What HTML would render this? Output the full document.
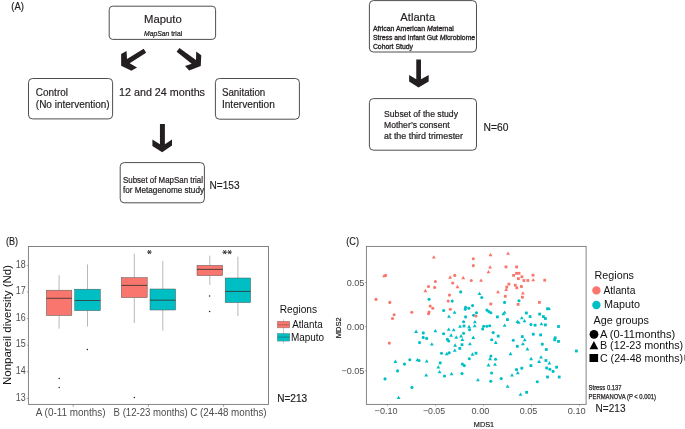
<!DOCTYPE html>
<html><head><meta charset="utf-8"><style>
html,body{margin:0;padding:0;background:#fff;}
body{width:685px;height:429px;overflow:hidden;}
svg{display:block;will-change:transform;font-family:"Liberation Sans",sans-serif;}
</style></head><body>
<svg width="685" height="429" viewBox="0 0 685 429">
<rect width="685" height="429" fill="#fff"/>
<text x="11.3" y="9.8" font-size="10.2" fill="#222" textLength="12.7" lengthAdjust="spacingAndGlyphs" stroke="#222" stroke-width="0.18">(A)</text>
<rect x="109.2" y="6.2" width="106.4" height="33.2" rx="3.5" fill="none" stroke="#3a3a3a" stroke-width="0.9"/>
<text x="144" y="22.8" font-size="11" fill="#231F20" textLength="37.7" lengthAdjust="spacingAndGlyphs" stroke="#231F20" stroke-width="0.18">Maputo</text>
<text x="144" y="35.8" font-size="7" fill="#231F20" textLength="38.2" lengthAdjust="spacingAndGlyphs" stroke="#231F20" stroke-width="0.22"><tspan font-style="italic">MapSan</tspan> trial</text>
<polygon points="143.67,48.85 146.12,52.69 129.69,63.32 137.03,67.38 131.43,70.73 121.15,65.63 121.15,54.09 126.54,50.94 127.03,58.99" fill="#231F20"/>
<polygon points="179.44,47.94 196.01,60.03 196.22,51.43 201.26,55.14 200.77,65.98 189.23,70.52 185.03,65.98 191.68,63.74 176.64,51.64" fill="#231F20"/>
<rect x="28.5" y="78.5" width="84.1" height="40.4" rx="4" fill="none" stroke="#3a3a3a" stroke-width="0.9"/>
<text x="35.8" y="96" font-size="10" fill="#231F20" textLength="32.2" lengthAdjust="spacingAndGlyphs" stroke="#231F20" stroke-width="0.18">Control</text>
<text x="35.8" y="108.2" font-size="10" fill="#231F20" textLength="73.9" lengthAdjust="spacingAndGlyphs" stroke="#231F20" stroke-width="0.18">(No intervention)</text>
<text x="119" y="95.9" font-size="11" fill="#231F20" textLength="86" lengthAdjust="spacingAndGlyphs" stroke="#231F20" stroke-width="0.18">12 and 24 months</text>
<rect x="215.4" y="78.5" width="84.0" height="40.7" rx="4" fill="none" stroke="#3a3a3a" stroke-width="0.9"/>
<text x="221.9" y="96" font-size="10" fill="#231F20" textLength="43.4" lengthAdjust="spacingAndGlyphs" stroke="#231F20" stroke-width="0.18">Sanitation</text>
<text x="221.9" y="108.1" font-size="10" fill="#231F20" textLength="53" lengthAdjust="spacingAndGlyphs" stroke="#231F20" stroke-width="0.18">Intervention</text>
<polygon points="159.94,124.03 164.89,124.03 164.89,144.3 172.0,139.5 172.0,145.6 162.2,152.3 152.4,146 152.4,139.5 159.94,144.3" fill="#231F20"/>
<rect x="120.2" y="162.6" width="84.2" height="40.2" rx="4" fill="none" stroke="#3a3a3a" stroke-width="0.9"/>
<text x="123" y="182.6" font-size="8.3" fill="#231F20" textLength="80" lengthAdjust="spacingAndGlyphs" stroke="#231F20" stroke-width="0.22">Subset of MapSan trial</text>
<text x="123" y="193" font-size="8.3" fill="#231F20" textLength="81" lengthAdjust="spacingAndGlyphs" stroke="#231F20" stroke-width="0.22">for Metagenome study</text>
<text x="209.6" y="189" font-size="10.3" fill="#231F20" textLength="30" lengthAdjust="spacingAndGlyphs" stroke="#231F20" stroke-width="0.18">N=153</text>
<rect x="369.4" y="0.6" width="107.1" height="51.4" rx="4" fill="none" stroke="#3a3a3a" stroke-width="0.9"/>
<text x="400.3" y="21" font-size="11.1" fill="#231F20" textLength="34.9" lengthAdjust="spacingAndGlyphs" stroke="#231F20" stroke-width="0.18">Atlanta</text>
<text x="372.9" y="31.2" font-size="6.7" fill="#231F20" textLength="80.9" lengthAdjust="spacingAndGlyphs" stroke="#231F20" stroke-width="0.3">African American <tspan font-style="italic">Ma</tspan>ternal</text>
<text x="372.9" y="40" font-size="6.7" fill="#231F20" textLength="102.3" lengthAdjust="spacingAndGlyphs" stroke="#231F20" stroke-width="0.3">Stress and Infant Gut <tspan font-style="italic">Mi</tspan>crobiome</text>
<text x="372.9" y="48.5" font-size="6.7" fill="#231F20" textLength="40.1" lengthAdjust="spacingAndGlyphs" stroke="#231F20" stroke-width="0.3">Cohort Study</text>
<polygon points="416.27,59.6 420.97,59.6 420.97,79.3 428.7,74.9 428.7,81.4 418.5,87.6 409.13,81.4 409.13,74.9 416.27,79.3" fill="#231F20"/>
<rect x="369.4" y="98.6" width="107.1" height="51.6" rx="4" fill="none" stroke="#3a3a3a" stroke-width="0.9"/>
<text x="384" y="117" font-size="8.9" fill="#231F20" textLength="74" lengthAdjust="spacingAndGlyphs" stroke="#231F20" stroke-width="0.22">Subset of the study</text>
<text x="384" y="128" font-size="8.9" fill="#231F20" textLength="65.6" lengthAdjust="spacingAndGlyphs" stroke="#231F20" stroke-width="0.22">Mother’s consent</text>
<text x="384" y="139" font-size="8.9" fill="#231F20" textLength="79" lengthAdjust="spacingAndGlyphs" stroke="#231F20" stroke-width="0.22">at the third trimester</text>
<text x="483.6" y="131" font-size="10.3" fill="#231F20" textLength="24.8" lengthAdjust="spacingAndGlyphs" stroke="#231F20" stroke-width="0.18">N=60</text>
<text x="5.9" y="244.8" font-size="10.4" fill="#222" textLength="12.1" lengthAdjust="spacingAndGlyphs" stroke="#222" stroke-width="0.15">(B)</text>
<text x="25.6" y="400.5" font-size="10" fill="#4D4D4D" textLength="9.9" lengthAdjust="spacingAndGlyphs" text-anchor="end">13</text>
<line x1="26.9" y1="398.40" x2="28.4" y2="398.40" stroke="#777" stroke-width="0.6"/>
<text x="25.6" y="373.92" font-size="10" fill="#4D4D4D" textLength="9.9" lengthAdjust="spacingAndGlyphs" text-anchor="end">14</text>
<line x1="26.9" y1="371.82" x2="28.4" y2="371.82" stroke="#777" stroke-width="0.6"/>
<text x="25.6" y="347.34" font-size="10" fill="#4D4D4D" textLength="9.9" lengthAdjust="spacingAndGlyphs" text-anchor="end">15</text>
<line x1="26.9" y1="345.24" x2="28.4" y2="345.24" stroke="#777" stroke-width="0.6"/>
<text x="25.6" y="320.76" font-size="10" fill="#4D4D4D" textLength="9.9" lengthAdjust="spacingAndGlyphs" text-anchor="end">16</text>
<line x1="26.9" y1="318.66" x2="28.4" y2="318.66" stroke="#777" stroke-width="0.6"/>
<text x="25.6" y="294.18" font-size="10" fill="#4D4D4D" textLength="9.9" lengthAdjust="spacingAndGlyphs" text-anchor="end">17</text>
<line x1="26.9" y1="292.08" x2="28.4" y2="292.08" stroke="#777" stroke-width="0.6"/>
<text x="25.6" y="267.6" font-size="10" fill="#4D4D4D" textLength="9.9" lengthAdjust="spacingAndGlyphs" text-anchor="end">18</text>
<line x1="26.9" y1="265.50" x2="28.4" y2="265.50" stroke="#777" stroke-width="0.6"/>
<line x1="73.2" y1="404.4" x2="73.2" y2="406.6" stroke="#555" stroke-width="0.6"/>
<line x1="148.4" y1="404.4" x2="148.4" y2="406.6" stroke="#555" stroke-width="0.6"/>
<line x1="223.6" y1="404.4" x2="223.6" y2="406.6" stroke="#555" stroke-width="0.6"/>
<text x="35.8" y="416" font-size="10.2" fill="#4D4D4D" textLength="69.8" lengthAdjust="spacingAndGlyphs">A (0-11 months)</text>
<text x="113.6" y="416" font-size="10.2" fill="#4D4D4D" textLength="74.2" lengthAdjust="spacingAndGlyphs">B (12-23 months)</text>
<text x="190.2" y="416" font-size="10.2" fill="#4D4D4D" textLength="76.4" lengthAdjust="spacingAndGlyphs">C (24-48 months)</text>
<text transform="translate(10.8,385) rotate(-90)" font-size="11.2" fill="#111" textLength="120" lengthAdjust="spacingAndGlyphs">Nonpareil diversity (Nd)</text>
<line x1="59.10" y1="275.2" x2="59.10" y2="290.2" stroke="#9a9a9a" stroke-width="0.7"/>
<line x1="59.10" y1="315.5" x2="59.10" y2="328.6" stroke="#9a9a9a" stroke-width="0.7"/>
<rect x="46.4" y="290.2" width="25.40" height="25.30" fill="#F8766D" stroke="#555" stroke-width="0.5"/>
<line x1="46.4" y1="298.3" x2="71.8" y2="298.3" stroke="#333" stroke-opacity="0.8" stroke-width="1.05"/>
<circle cx="59.2" cy="378.6" r="0.75" fill="#222"/>
<circle cx="59.2" cy="387.6" r="0.75" fill="#222"/>
<line x1="87.50" y1="264.4" x2="87.50" y2="289.2" stroke="#9a9a9a" stroke-width="0.7"/>
<line x1="87.50" y1="310.6" x2="87.50" y2="326.6" stroke="#9a9a9a" stroke-width="0.7"/>
<rect x="74.7" y="289.2" width="25.60" height="21.40" fill="#00BFC4" stroke="#555" stroke-width="0.5"/>
<line x1="74.7" y1="300.5" x2="100.3" y2="300.5" stroke="#333" stroke-opacity="0.8" stroke-width="1.05"/>
<circle cx="87.4" cy="349.4" r="0.75" fill="#222"/>
<line x1="134.30" y1="253.6" x2="134.30" y2="277.6" stroke="#9a9a9a" stroke-width="0.7"/>
<line x1="134.30" y1="297.6" x2="134.30" y2="323" stroke="#9a9a9a" stroke-width="0.7"/>
<rect x="121.4" y="277.6" width="25.80" height="20.00" fill="#F8766D" stroke="#555" stroke-width="0.5"/>
<line x1="121.4" y1="285.4" x2="147.2" y2="285.4" stroke="#333" stroke-opacity="0.8" stroke-width="1.05"/>
<circle cx="134.4" cy="397.6" r="0.75" fill="#222"/>
<line x1="162.80" y1="261" x2="162.80" y2="289" stroke="#9a9a9a" stroke-width="0.7"/>
<line x1="162.80" y1="310" x2="162.80" y2="330.6" stroke="#9a9a9a" stroke-width="0.7"/>
<rect x="150" y="289" width="25.60" height="21.00" fill="#00BFC4" stroke="#555" stroke-width="0.5"/>
<line x1="150" y1="300.2" x2="175.6" y2="300.2" stroke="#333" stroke-opacity="0.8" stroke-width="1.05"/>
<line x1="209.80" y1="255.6" x2="209.80" y2="265.4" stroke="#9a9a9a" stroke-width="0.7"/>
<line x1="209.80" y1="275.6" x2="209.80" y2="285" stroke="#9a9a9a" stroke-width="0.7"/>
<rect x="197" y="265.4" width="25.60" height="10.20" fill="#F8766D" stroke="#555" stroke-width="0.5"/>
<line x1="197" y1="269.4" x2="222.6" y2="269.4" stroke="#333" stroke-opacity="0.8" stroke-width="1.05"/>
<circle cx="209.6" cy="296" r="0.75" fill="#222"/>
<circle cx="209.6" cy="311.4" r="0.75" fill="#222"/>
<line x1="237.90" y1="256.6" x2="237.90" y2="278" stroke="#9a9a9a" stroke-width="0.7"/>
<line x1="237.90" y1="302.6" x2="237.90" y2="316" stroke="#9a9a9a" stroke-width="0.7"/>
<rect x="225.2" y="278" width="25.40" height="24.60" fill="#00BFC4" stroke="#555" stroke-width="0.5"/>
<line x1="225.2" y1="291.4" x2="250.6" y2="291.4" stroke="#333" stroke-opacity="0.8" stroke-width="1.05"/>
<rect x="28.4" y="246.5" width="240.1" height="157.9" fill="none" stroke="#777" stroke-width="0.9"/>
<line x1="147.10" y1="252.10" x2="151.70" y2="252.10" stroke="#333" stroke-width="1"/>
<line x1="148.25" y1="250.11" x2="150.55" y2="254.09" stroke="#333" stroke-width="1"/>
<line x1="150.55" y1="250.11" x2="148.25" y2="254.09" stroke="#333" stroke-width="1"/>
<line x1="222.40" y1="252.20" x2="227.00" y2="252.20" stroke="#333" stroke-width="1"/>
<line x1="223.55" y1="250.21" x2="225.85" y2="254.19" stroke="#333" stroke-width="1"/>
<line x1="225.85" y1="250.21" x2="223.55" y2="254.19" stroke="#333" stroke-width="1"/>
<line x1="227.30" y1="252.20" x2="231.90" y2="252.20" stroke="#333" stroke-width="1"/>
<line x1="228.45" y1="250.21" x2="230.75" y2="254.19" stroke="#333" stroke-width="1"/>
<line x1="230.75" y1="250.21" x2="228.45" y2="254.19" stroke="#333" stroke-width="1"/>
<text x="279.7" y="312.6" font-size="11.2" fill="#111" textLength="37.4" lengthAdjust="spacingAndGlyphs">Regions</text>
<line x1="283.5" y1="319.3" x2="283.5" y2="343.5" stroke="#aaa" stroke-width="0.6"/>
<rect x="277.3" y="321.2" width="12.5" height="6.7" fill="#F8766D" stroke="#777" stroke-width="0.4"/>
<line x1="277.3" y1="324.8" x2="289.8" y2="324.8" stroke="#333" stroke-opacity="0.4" stroke-width="0.8"/>
<rect x="277.3" y="333.4" width="12.5" height="7.7" fill="#00BFC4" stroke="#777" stroke-width="0.4"/>
<line x1="277.3" y1="337.1" x2="289.8" y2="337.1" stroke="#333" stroke-opacity="0.5" stroke-width="0.8"/>
<text x="292.2" y="328.1" font-size="10.9" fill="#111" textLength="30.5" lengthAdjust="spacingAndGlyphs">Atlanta</text>
<text x="290.9" y="340.6" font-size="10.9" fill="#111" textLength="33.2" lengthAdjust="spacingAndGlyphs">Maputo</text>
<text x="277.2" y="401.8" font-size="10.3" fill="#222" textLength="29.9" lengthAdjust="spacingAndGlyphs" stroke="#222" stroke-width="0.2">N=213</text>
<text x="346.3" y="244.8" font-size="10.4" fill="#222" textLength="12.7" lengthAdjust="spacingAndGlyphs" stroke="#222" stroke-width="0.15">(C)</text>
<text x="364.4" y="285.6" font-size="9.1" fill="#4D4D4D" text-anchor="end">0.05</text>
<line x1="364.9" y1="282.50" x2="366.4" y2="282.50" stroke="#777" stroke-width="0.6"/>
<text x="364.4" y="329.7" font-size="9.1" fill="#4D4D4D" text-anchor="end">0.00</text>
<line x1="364.9" y1="326.60" x2="366.4" y2="326.60" stroke="#777" stroke-width="0.6"/>
<text x="364.4" y="373.8" font-size="9.1" fill="#4D4D4D" text-anchor="end">−0.05</text>
<line x1="364.9" y1="370.70" x2="366.4" y2="370.70" stroke="#777" stroke-width="0.6"/>
<text x="374.59999999999997" y="413.9" font-size="9.1" fill="#4D4D4D" textLength="22.9" lengthAdjust="spacingAndGlyphs">−0.10</text>
<line x1="387.5" y1="404.4" x2="387.5" y2="405.9" stroke="#777" stroke-width="0.6"/>
<text x="422.9" y="413.9" font-size="9.1" fill="#4D4D4D" textLength="22.2" lengthAdjust="spacingAndGlyphs">−0.05</text>
<line x1="435.5" y1="404.4" x2="435.5" y2="405.9" stroke="#777" stroke-width="0.6"/>
<text x="471.5" y="413.9" font-size="9.1" fill="#4D4D4D" textLength="17.9" lengthAdjust="spacingAndGlyphs">0.00</text>
<line x1="483.5" y1="404.4" x2="483.5" y2="405.9" stroke="#777" stroke-width="0.6"/>
<text x="519.7" y="413.9" font-size="9.1" fill="#4D4D4D" textLength="17.6" lengthAdjust="spacingAndGlyphs">0.05</text>
<line x1="531.5" y1="404.4" x2="531.5" y2="405.9" stroke="#777" stroke-width="0.6"/>
<text x="567.7" y="413.9" font-size="9.1" fill="#4D4D4D" textLength="18.0" lengthAdjust="spacingAndGlyphs">0.10</text>
<line x1="579.5" y1="404.4" x2="579.5" y2="405.9" stroke="#777" stroke-width="0.6"/>
<text x="473.8" y="427.1" font-size="7.8" fill="#111" textLength="20.3" lengthAdjust="spacingAndGlyphs" stroke="#111" stroke-width="0.15">MDS1</text>
<text transform="translate(340.6,338.2) rotate(-90)" font-size="8" fill="#111" stroke="#111" stroke-width="0.15" textLength="20.8" lengthAdjust="spacingAndGlyphs">MDS2</text>
<polygon points="431.85,258.55 435.75,258.55 433.80,255.20" fill="#F8766D"/>
<circle cx="473.3" cy="258.8" r="1.55" fill="#F8766D"/>
<circle cx="473.3" cy="265.6" r="1.55" fill="#F8766D"/>
<polygon points="382.05,277.35 385.95,277.35 384.00,274.00" fill="#F8766D"/>
<circle cx="385.6" cy="275.4" r="1.55" fill="#F8766D"/>
<polygon points="448.15,278.65 452.05,278.65 450.10,275.30" fill="#F8766D"/>
<circle cx="454.8" cy="275.4" r="1.55" fill="#F8766D"/>
<polygon points="461.25,279.15 465.15,279.15 463.20,275.80" fill="#F8766D"/>
<circle cx="471.3" cy="280.5" r="1.55" fill="#F8766D"/>
<circle cx="435.4" cy="281.5" r="1.55" fill="#F8766D"/>
<circle cx="452.7" cy="283.0" r="1.55" fill="#F8766D"/>
<polygon points="455.55,288.15 459.45,288.15 457.50,284.80" fill="#F8766D"/>
<circle cx="428.5" cy="286.5" r="1.55" fill="#F8766D"/>
<circle cx="434.7" cy="287.4" r="1.55" fill="#F8766D"/>
<polygon points="423.45,292.15 427.35,292.15 425.40,288.80" fill="#F8766D"/>
<circle cx="460.7" cy="291.9" r="1.55" fill="#00BFC4"/>
<circle cx="449.5" cy="295.1" r="1.55" fill="#F8766D"/>
<circle cx="376.0" cy="299.4" r="1.55" fill="#F8766D"/>
<circle cx="429.1" cy="299.2" r="1.55" fill="#00BFC4"/>
<circle cx="448.2" cy="301.1" r="1.55" fill="#F8766D"/>
<circle cx="452.2" cy="301.1" r="1.55" fill="#00BFC4"/>
<polygon points="488.55,256.15 492.45,256.15 490.50,252.80" fill="#F8766D"/>
<polygon points="506.15,254.85 510.05,254.85 508.10,251.50" fill="#F8766D"/>
<polygon points="488.15,268.55 492.05,268.55 490.10,265.20" fill="#F8766D"/>
<rect x="504.60" y="265.50" width="2.8" height="2.8" fill="#F8766D"/>
<rect x="515.20" y="265.50" width="2.8" height="2.8" fill="#F8766D"/>
<polygon points="486.55,273.35 490.45,273.35 488.50,270.00" fill="#F8766D"/>
<rect x="512.20" y="274.00" width="2.8" height="2.8" fill="#F8766D"/>
<rect x="515.10" y="271.90" width="2.8" height="2.8" fill="#F8766D"/>
<rect x="517.60" y="271.90" width="2.8" height="2.8" fill="#F8766D"/>
<rect x="520.50" y="275.40" width="2.8" height="2.8" fill="#F8766D"/>
<rect x="517.00" y="277.20" width="2.8" height="2.8" fill="#F8766D"/>
<rect x="531.60" y="273.80" width="2.8" height="2.8" fill="#F8766D"/>
<rect x="522.50" y="279.10" width="2.8" height="2.8" fill="#F8766D"/>
<rect x="526.50" y="279.10" width="2.8" height="2.8" fill="#F8766D"/>
<polygon points="531.25,281.35 535.15,281.35 533.20,278.00" fill="#F8766D"/>
<rect x="543.30" y="278.80" width="2.8" height="2.8" fill="#F8766D"/>
<polygon points="479.15,281.85 483.05,281.85 481.10,278.50" fill="#F8766D"/>
<rect x="507.50" y="282.70" width="2.8" height="2.8" fill="#F8766D"/>
<rect x="513.90" y="283.80" width="2.8" height="2.8" fill="#F8766D"/>
<rect x="515.40" y="286.40" width="2.8" height="2.8" fill="#F8766D"/>
<rect x="520.00" y="285.10" width="2.8" height="2.8" fill="#F8766D"/>
<rect x="505.40" y="285.70" width="2.8" height="2.8" fill="#F8766D"/>
<polygon points="504.25,291.05 508.15,291.05 506.20,287.70" fill="#F8766D"/>
<polygon points="496.05,293.25 499.95,293.25 498.00,289.90" fill="#F8766D"/>
<polygon points="520.95,294.55 524.85,294.55 522.90,291.20" fill="#F8766D"/>
<polygon points="477.55,295.05 481.45,295.05 479.50,291.70" fill="#00BFC4"/>
<circle cx="481.8" cy="297.5" r="1.55" fill="#00BFC4"/>
<rect x="503.90" y="294.90" width="2.8" height="2.8" fill="#F8766D"/>
<rect x="521.00" y="295.80" width="2.8" height="2.8" fill="#F8766D"/>
<circle cx="519.0" cy="300.7" r="1.55" fill="#00BFC4"/>
<rect x="538.00" y="301.00" width="2.8" height="2.8" fill="#F8766D"/>
<circle cx="389.8" cy="302.4" r="1.55" fill="#F8766D"/>
<circle cx="430.2" cy="306.1" r="1.55" fill="#F8766D"/>
<circle cx="432.8" cy="308.2" r="1.55" fill="#F8766D"/>
<circle cx="429.0" cy="312.1" r="1.55" fill="#F8766D"/>
<circle cx="428.6" cy="313.7" r="1.55" fill="#F8766D"/>
<circle cx="411.8" cy="312.2" r="1.55" fill="#F8766D"/>
<circle cx="394.1" cy="314.8" r="1.55" fill="#F8766D"/>
<circle cx="392.5" cy="318.5" r="1.55" fill="#F8766D"/>
<circle cx="450.3" cy="309.2" r="1.55" fill="#F8766D"/>
<circle cx="443.7" cy="310.5" r="1.55" fill="#00BFC4"/>
<polygon points="452.65,313.75 456.55,313.75 454.60,310.40" fill="#00BFC4"/>
<polygon points="447.05,317.85 450.95,317.85 449.00,314.50" fill="#00BFC4"/>
<circle cx="465.6" cy="307.2" r="1.55" fill="#00BFC4"/>
<circle cx="465.2" cy="309.2" r="1.55" fill="#00BFC4"/>
<circle cx="468.8" cy="308.2" r="1.55" fill="#00BFC4"/>
<circle cx="472.6" cy="305.6" r="1.55" fill="#00BFC4"/>
<circle cx="465.6" cy="316.9" r="1.55" fill="#00BFC4"/>
<circle cx="473.6" cy="315.3" r="1.55" fill="#00BFC4"/>
<circle cx="476.0" cy="316.0" r="1.55" fill="#F8766D"/>
<circle cx="476.5" cy="312.7" r="1.55" fill="#00BFC4"/>
<circle cx="463.6" cy="321.7" r="1.55" fill="#00BFC4"/>
<polygon points="458.05,327.85 461.95,327.85 460.00,324.50" fill="#00BFC4"/>
<rect x="462.60" y="324.60" width="2.8" height="2.8" fill="#00BFC4"/>
<polygon points="467.15,328.15 471.05,328.15 469.10,324.80" fill="#00BFC4"/>
<circle cx="469.6" cy="329.7" r="1.55" fill="#00BFC4"/>
<polygon points="472.75,327.35 476.65,327.35 474.70,324.00" fill="#00BFC4"/>
<polygon points="472.95,323.35 476.85,323.35 474.90,320.00" fill="#00BFC4"/>
<polygon points="414.15,332.95 418.05,332.95 416.10,329.60" fill="#00BFC4"/>
<circle cx="423.3" cy="332.9" r="1.55" fill="#00BFC4"/>
<polygon points="433.45,332.35 437.35,332.35 435.40,329.00" fill="#00BFC4"/>
<circle cx="423.2" cy="337.4" r="1.55" fill="#00BFC4"/>
<circle cx="426.7" cy="338.4" r="1.55" fill="#00BFC4"/>
<circle cx="419.6" cy="342.6" r="1.55" fill="#00BFC4"/>
<circle cx="389.3" cy="343.1" r="1.55" fill="#F8766D"/>
<polygon points="429.85,345.55 433.75,345.55 431.80,342.20" fill="#00BFC4"/>
<circle cx="443.6" cy="333.7" r="1.55" fill="#00BFC4"/>
<polygon points="446.75,330.85 450.65,330.85 448.70,327.50" fill="#00BFC4"/>
<polygon points="451.75,331.35 455.65,331.35 453.70,328.00" fill="#00BFC4"/>
<polygon points="449.15,336.65 453.05,336.65 451.10,333.30" fill="#00BFC4"/>
<polygon points="454.35,338.65 458.25,338.65 456.30,335.30" fill="#00BFC4"/>
<polygon points="459.15,337.45 463.05,337.45 461.10,334.10" fill="#00BFC4"/>
<circle cx="463.6" cy="333.3" r="1.55" fill="#00BFC4"/>
<polygon points="460.45,341.05 464.35,341.05 462.40,337.70" fill="#00BFC4"/>
<circle cx="447.4" cy="339.4" r="1.55" fill="#00BFC4"/>
<circle cx="448.7" cy="341.0" r="1.55" fill="#00BFC4"/>
<polygon points="471.35,338.95 475.25,338.95 473.30,335.60" fill="#00BFC4"/>
<polygon points="467.95,345.35 471.85,345.35 469.90,342.00" fill="#00BFC4"/>
<rect x="460.60" y="343.30" width="2.8" height="2.8" fill="#00BFC4"/>
<polygon points="453.15,346.65 457.05,346.65 455.10,343.30" fill="#00BFC4"/>
<rect x="458.40" y="347.00" width="2.8" height="2.8" fill="#00BFC4"/>
<polygon points="452.85,351.75 456.75,351.75 454.80,348.40" fill="#00BFC4"/>
<circle cx="504.6" cy="302.4" r="1.55" fill="#00BFC4"/>
<rect x="489.40" y="302.60" width="2.8" height="2.8" fill="#F8766D"/>
<rect x="516.70" y="303.00" width="2.8" height="2.8" fill="#F8766D"/>
<circle cx="486.9" cy="310.1" r="1.55" fill="#00BFC4"/>
<circle cx="488.8" cy="311.6" r="1.55" fill="#00BFC4"/>
<circle cx="490.9" cy="312.7" r="1.55" fill="#00BFC4"/>
<polygon points="502.65,313.75 506.55,313.75 504.60,310.40" fill="#00BFC4"/>
<polygon points="501.35,315.35 505.25,315.35 503.30,312.00" fill="#00BFC4"/>
<rect x="496.00" y="315.50" width="2.8" height="2.8" fill="#00BFC4"/>
<rect x="506.10" y="318.20" width="2.8" height="2.8" fill="#00BFC4"/>
<rect x="525.00" y="311.60" width="2.8" height="2.8" fill="#00BFC4"/>
<rect x="528.70" y="315.20" width="2.8" height="2.8" fill="#00BFC4"/>
<polygon points="519.85,319.35 523.75,319.35 521.80,316.00" fill="#00BFC4"/>
<polygon points="522.55,322.25 526.45,322.25 524.50,318.90" fill="#00BFC4"/>
<polygon points="515.45,323.05 519.35,323.05 517.40,319.70" fill="#00BFC4"/>
<polygon points="516.75,323.85 520.65,323.85 518.70,320.50" fill="#00BFC4"/>
<rect x="538.20" y="312.70" width="2.8" height="2.8" fill="#00BFC4"/>
<rect x="542.00" y="315.20" width="2.8" height="2.8" fill="#00BFC4"/>
<rect x="544.00" y="317.10" width="2.8" height="2.8" fill="#00BFC4"/>
<rect x="546.10" y="307.40" width="2.8" height="2.8" fill="#00BFC4"/>
<polygon points="547.05,310.05 550.95,310.05 549.00,306.70" fill="#00BFC4"/>
<circle cx="530.9" cy="324.6" r="1.55" fill="#00BFC4"/>
<rect x="533.70" y="323.80" width="2.8" height="2.8" fill="#00BFC4"/>
<polygon points="539.45,325.25 543.35,325.25 541.40,321.90" fill="#00BFC4"/>
<rect x="544.00" y="323.50" width="2.8" height="2.8" fill="#00BFC4"/>
<rect x="557.10" y="325.10" width="2.8" height="2.8" fill="#00BFC4"/>
<polygon points="502.65,326.85 506.55,326.85 504.60,323.50" fill="#00BFC4"/>
<circle cx="483.7" cy="326.2" r="1.55" fill="#00BFC4"/>
<circle cx="486.9" cy="326.2" r="1.55" fill="#00BFC4"/>
<circle cx="489.7" cy="325.7" r="1.55" fill="#00BFC4"/>
<circle cx="482.7" cy="328.9" r="1.55" fill="#00BFC4"/>
<circle cx="493.2" cy="332.6" r="1.55" fill="#00BFC4"/>
<rect x="496.80" y="334.70" width="2.8" height="2.8" fill="#00BFC4"/>
<circle cx="491.7" cy="339.7" r="1.55" fill="#00BFC4"/>
<polygon points="493.85,343.95 497.75,343.95 495.80,340.60" fill="#00BFC4"/>
<rect x="531.90" y="332.80" width="2.8" height="2.8" fill="#00BFC4"/>
<rect x="539.20" y="333.50" width="2.8" height="2.8" fill="#00BFC4"/>
<circle cx="513.3" cy="340.2" r="1.55" fill="#00BFC4"/>
<rect x="520.90" y="335.20" width="2.8" height="2.8" fill="#00BFC4"/>
<polygon points="522.75,341.35 526.65,341.35 524.70,338.00" fill="#00BFC4"/>
<polygon points="520.95,345.35 524.85,345.35 522.90,342.00" fill="#00BFC4"/>
<rect x="515.90" y="344.90" width="2.8" height="2.8" fill="#00BFC4"/>
<rect x="540.90" y="342.80" width="2.8" height="2.8" fill="#00BFC4"/>
<rect x="553.80" y="336.40" width="2.8" height="2.8" fill="#00BFC4"/>
<rect x="553.30" y="338.40" width="2.8" height="2.8" fill="#00BFC4"/>
<rect x="557.10" y="340.00" width="2.8" height="2.8" fill="#00BFC4"/>
<polygon points="525.45,350.45 529.35,350.45 527.40,347.10" fill="#00BFC4"/>
<rect x="544.90" y="348.10" width="2.8" height="2.8" fill="#00BFC4"/>
<rect x="575.00" y="349.60" width="2.8" height="2.8" fill="#00BFC4"/>
<circle cx="441.5" cy="353.2" r="1.55" fill="#00BFC4"/>
<polygon points="444.85,355.15 448.75,355.15 446.80,351.80" fill="#00BFC4"/>
<circle cx="449.2" cy="352.7" r="1.55" fill="#00BFC4"/>
<polygon points="470.55,355.65 474.45,355.65 472.50,352.30" fill="#00BFC4"/>
<rect x="474.60" y="351.80" width="2.8" height="2.8" fill="#00BFC4"/>
<polygon points="393.45,362.95 397.35,362.95 395.40,359.60" fill="#00BFC4"/>
<circle cx="409.8" cy="359.7" r="1.55" fill="#00BFC4"/>
<polygon points="415.45,361.35 419.35,361.35 417.40,358.00" fill="#00BFC4"/>
<circle cx="419.0" cy="360.5" r="1.55" fill="#00BFC4"/>
<polygon points="424.75,362.55 428.65,362.55 426.70,359.20" fill="#00BFC4"/>
<circle cx="404.5" cy="364.1" r="1.55" fill="#00BFC4"/>
<rect x="438.80" y="361.50" width="2.8" height="2.8" fill="#00BFC4"/>
<polygon points="436.35,368.55 440.25,368.55 438.30,365.20" fill="#00BFC4"/>
<circle cx="469.3" cy="358.8" r="1.55" fill="#00BFC4"/>
<circle cx="462.4" cy="364.1" r="1.55" fill="#00BFC4"/>
<circle cx="464.3" cy="365.6" r="1.55" fill="#00BFC4"/>
<circle cx="397.6" cy="370.9" r="1.55" fill="#00BFC4"/>
<polygon points="437.65,373.35 441.55,373.35 439.60,370.00" fill="#00BFC4"/>
<circle cx="444.5" cy="376.0" r="1.55" fill="#00BFC4"/>
<polygon points="449.65,375.25 453.55,375.25 451.60,371.90" fill="#00BFC4"/>
<circle cx="462.0" cy="373.6" r="1.55" fill="#00BFC4"/>
<polygon points="424.25,376.55 428.15,376.55 426.20,373.20" fill="#00BFC4"/>
<circle cx="385.0" cy="378.9" r="1.55" fill="#00BFC4"/>
<circle cx="411.9" cy="387.4" r="1.55" fill="#00BFC4"/>
<polygon points="396.65,399.05 400.55,399.05 398.60,395.70" fill="#00BFC4"/>
<circle cx="490.9" cy="356.0" r="1.55" fill="#00BFC4"/>
<polygon points="488.15,360.15 492.05,360.15 490.10,356.80" fill="#00BFC4"/>
<circle cx="495.6" cy="359.2" r="1.55" fill="#00BFC4"/>
<polygon points="508.55,355.15 512.45,355.15 510.50,351.80" fill="#00BFC4"/>
<polygon points="529.15,360.15 533.05,360.15 531.10,356.80" fill="#00BFC4"/>
<polygon points="539.05,358.55 542.95,358.55 541.00,355.20" fill="#00BFC4"/>
<polygon points="537.15,362.95 541.05,362.95 539.10,359.60" fill="#00BFC4"/>
<rect x="544.50" y="359.10" width="2.8" height="2.8" fill="#00BFC4"/>
<polygon points="547.45,364.55 551.35,364.55 549.40,361.20" fill="#00BFC4"/>
<rect x="529.50" y="364.20" width="2.8" height="2.8" fill="#00BFC4"/>
<polygon points="486.55,366.45 490.45,366.45 488.50,363.10" fill="#00BFC4"/>
<polygon points="493.05,365.75 496.95,365.75 495.00,362.40" fill="#00BFC4"/>
<circle cx="491.6" cy="373.0" r="1.55" fill="#00BFC4"/>
<rect x="520.40" y="366.80" width="2.8" height="2.8" fill="#00BFC4"/>
<circle cx="516.5" cy="369.6" r="1.55" fill="#00BFC4"/>
<polygon points="515.85,374.15 519.75,374.15 517.80,370.80" fill="#00BFC4"/>
<polygon points="510.05,376.55 513.95,376.55 512.00,373.20" fill="#00BFC4"/>
<rect x="545.30" y="366.60" width="2.8" height="2.8" fill="#00BFC4"/>
<circle cx="549.9" cy="369.3" r="1.55" fill="#00BFC4"/>
<circle cx="553.1" cy="371.4" r="1.55" fill="#00BFC4"/>
<rect x="555.20" y="365.80" width="2.8" height="2.8" fill="#00BFC4"/>
<rect x="546.10" y="375.60" width="2.8" height="2.8" fill="#00BFC4"/>
<rect x="557.80" y="375.60" width="2.8" height="2.8" fill="#00BFC4"/>
<polygon points="475.95,381.35 479.85,381.35 477.90,378.00" fill="#00BFC4"/>
<circle cx="490.8" cy="381.3" r="1.55" fill="#00BFC4"/>
<circle cx="501.2" cy="378.6" r="1.55" fill="#00BFC4"/>
<circle cx="537.3" cy="381.8" r="1.55" fill="#00BFC4"/>
<polygon points="505.65,387.75 509.55,387.75 507.60,384.40" fill="#00BFC4"/>
<polygon points="518.55,395.85 522.45,395.85 520.50,392.50" fill="#00BFC4"/>
<rect x="525.20" y="390.90" width="2.8" height="2.8" fill="#00BFC4"/>
<rect x="366.4" y="246.4" width="219.7" height="158" fill="none" stroke="#777" stroke-width="0.9"/>
<text x="594.6" y="279.4" font-size="10.2" fill="#111" textLength="39.4" lengthAdjust="spacingAndGlyphs">Regions</text>
<circle cx="596.4" cy="290.4" r="4.2" fill="#F8766D"/>
<circle cx="596.4" cy="305" r="4.2" fill="#00BFC4"/>
<text x="603.4" y="293.6" font-size="10.2" fill="#111" textLength="32" lengthAdjust="spacingAndGlyphs">Atlanta</text>
<text x="604" y="308.4" font-size="10.2" fill="#111" textLength="36" lengthAdjust="spacingAndGlyphs">Maputo</text>
<text x="593.6" y="323.6" font-size="10.2" fill="#111" textLength="55.4" lengthAdjust="spacingAndGlyphs">Age groups</text>
<circle cx="594" cy="334.3" r="4.4" fill="#000"/>
<text x="599.9" y="337.6" font-size="10.6" fill="#111" textLength="75.4" lengthAdjust="spacingAndGlyphs">A (0-11months)</text>
<polygon points="589.5,349.3 598.3,349.3 593.9,341.1" fill="#000"/>
<text x="599.9" y="349.1" font-size="11.2" fill="#111" textLength="83.3" lengthAdjust="spacingAndGlyphs">B (12-23 months)</text>
<rect x="589.5" y="354" width="8.6" height="8" fill="#000"/>
<text x="599.9" y="361.9" font-size="11.2" fill="#111" textLength="83.3" lengthAdjust="spacingAndGlyphs">C (24-48 months)</text>
<rect x="684.3" y="354.6" width="0.7" height="6" fill="#555"/>
<text x="588.6" y="389.6" font-size="6.6" fill="#231F20" textLength="33" lengthAdjust="spacingAndGlyphs" stroke="#231F20" stroke-width="0.25">Stress 0.137</text>
<text x="588.6" y="398.5" font-size="6.6" fill="#231F20" textLength="67.4" lengthAdjust="spacingAndGlyphs" stroke="#231F20" stroke-width="0.25">PERMANOVA (P &lt; 0.001)</text>
<text x="595.6" y="412" font-size="10.4" fill="#222" textLength="29.9" lengthAdjust="spacingAndGlyphs" stroke="#222" stroke-width="0.12">N=213</text>
</svg>
</body></html>
